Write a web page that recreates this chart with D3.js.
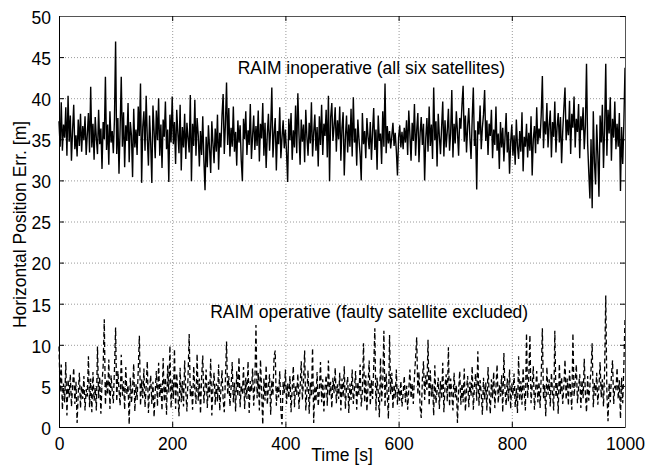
<!DOCTYPE html>
<html>
<head>
<meta charset="utf-8">
<script src="https://cdn.jsdelivr.net/npm/d3@7"></script>
<style>
  body { margin: 0; background: #fff; }
  text { font-family: Arial, "Liberation Sans", sans-serif; fill: #000; }
</style>
</head>
<body>
<div id="chart-area"></div>
<script>
// values, one sample every 2 s from 0 to 1000 s
const inoperative = [
  37.2, 34.1, 39.5, 33.6, 36.8, 35.2, 38.9, 33.0, 40.3, 34.7, 37.9, 32.4, 36.1, 39.2, 33.8, 35.5, 32.9, 37.4, 34.2, 38.1, 33.5, 36.6, 34.9, 37.8, 33.1,
  35.6, 38.2, 33.4, 41.4, 34.0, 36.9, 32.5, 37.7, 35.1, 33.2, 38.6, 34.4, 36.3, 31.4, 37.1, 35.0, 42.6, 33.7, 36.8, 31.9, 38.4, 34.6, 36.0, 33.3, 37.5,
  46.9, 33.2, 37.6, 30.8, 36.4, 42.6, 34.1, 38.3, 31.6, 36.7, 34.8, 39.4, 32.2, 37.1, 35.5, 30.4, 38.7, 34.0, 36.2, 33.1, 39.0, 35.4, 41.8, 29.7, 36.5,
  38.4, 33.6, 40.3, 35.2, 31.8, 37.9, 34.5, 29.7, 39.1, 36.0, 32.7, 38.5, 34.9, 40.0, 33.0, 36.8, 31.5, 37.4, 35.3, 39.6, 33.8, 36.2, 29.8, 38.0, 34.6,
  40.2, 34.4, 37.1, 32.0, 38.6, 35.7, 33.3, 39.2, 31.2, 36.5, 34.0, 38.1, 32.6, 37.0, 35.1, 33.4, 40.4, 29.9, 36.9, 34.2, 39.8, 33.0, 37.6, 35.5, 31.7,
  36.0, 33.1, 37.8, 32.4, 28.8, 35.3, 31.6, 36.7, 33.9, 30.9, 37.2, 34.5, 32.1, 36.3, 33.5, 38.0, 31.3, 35.8, 34.0, 37.9, 40.5, 33.2, 36.8, 41.9, 34.3,
  38.8, 32.9, 36.4, 34.1, 39.0, 33.5, 35.9, 31.8, 37.3, 34.6, 36.7, 32.4, 29.9, 37.5, 35.0, 38.4, 33.1, 36.1, 34.3, 39.3, 32.6, 35.4, 37.9, 33.7, 36.6,
  34.2, 38.5, 32.3, 36.9, 35.1, 39.4, 33.0, 37.0, 31.5, 35.6, 38.1, 33.6, 36.4, 41.3, 32.8, 35.7, 37.6, 31.2, 36.0, 34.4, 38.9, 32.7, 35.2, 37.3, 33.9,
  36.2, 33.4, 29.8, 37.5, 34.9, 38.2, 32.5, 36.1, 34.0, 39.1, 33.3, 40.6, 35.6, 31.9, 37.4, 34.7, 36.8, 32.2, 38.6, 35.3, 33.0, 37.0, 34.5, 39.5, 32.9,
  35.8, 38.0, 33.6, 36.5, 31.7, 37.8, 34.3, 39.2, 33.1, 36.9, 35.4, 38.6, 32.8, 40.3, 29.9, 37.7, 39.4, 34.8, 36.6, 38.9, 33.5, 37.3, 35.0, 39.0, 32.4,
  36.4, 38.3, 30.6, 35.2, 37.9, 33.4, 36.8, 34.1, 38.7, 32.9, 40.1, 34.6, 36.3, 31.8, 37.4, 35.0, 33.2, 30.0, 38.2, 34.4, 36.0, 32.7, 37.6, 35.3, 33.8,
  37.1, 32.5, 35.9, 38.8, 33.7, 36.2, 31.3, 37.9, 34.8, 35.7, 32.0, 38.4, 34.1, 41.8, 33.3, 36.6, 34.5, 36.0, 33.9, 35.4, 37.0, 34.2, 35.8, 33.6, 30.6,
  35.2, 36.7, 34.0, 35.9, 33.8, 36.4, 34.6, 37.3, 33.1, 38.5, 35.5, 32.4, 37.0, 34.8, 39.3, 33.0, 36.1, 38.2, 32.2, 35.7, 37.7, 34.3, 36.9, 30.0, 35.1,
  37.6, 33.5, 39.0, 34.2, 36.8, 32.6, 41.3, 34.9, 37.2, 31.7, 38.1, 35.4, 33.2, 36.5, 39.6, 32.9, 37.3, 34.0, 36.0, 38.7, 33.6, 35.8, 41.0, 32.8, 36.9,
  34.5, 38.4, 35.9, 33.0, 37.6, 36.3, 39.2, 41.5, 34.7, 37.9, 33.4, 36.6, 38.8, 35.1, 32.6, 37.4, 41.3, 34.2, 36.1, 28.9, 37.2, 35.6, 39.1, 33.8, 36.4,
  38.0, 41.0, 34.8, 37.3, 33.1, 36.9, 35.4, 38.6, 32.7, 36.2, 34.3, 39.0, 33.6, 35.7, 31.4, 37.1, 34.0, 36.4, 32.3, 35.2, 38.2, 33.4, 35.9, 30.8, 34.6,
  36.8, 33.0, 35.5, 31.9, 37.4, 34.2, 32.6, 36.0, 33.5, 38.3, 31.1, 35.3, 34.1, 36.9, 32.8, 35.8, 33.6, 37.8, 30.6, 35.0, 36.6, 33.3, 38.9, 34.4, 36.3,
  35.1, 38.0, 42.7, 33.9, 37.2, 35.6, 39.4, 34.0, 36.7, 38.5, 32.8, 37.1, 35.3, 39.6, 33.4, 36.5, 38.2, 34.6, 37.7, 32.1, 36.0, 38.8, 41.3, 34.9, 37.4,
  35.5, 39.7, 33.2, 38.1, 36.4, 40.2, 34.0, 37.5, 35.9, 39.3, 32.7, 37.8, 36.1, 38.9, 33.8, 36.6, 44.2, 34.5, 31.0, 27.8, 35.0, 26.6, 38.4, 32.2, 29.5,
  36.8, 33.1, 28.0, 37.9, 34.6, 39.2, 31.5, 36.3, 44.2, 33.0, 38.6, 35.7, 40.1, 32.4, 37.5, 35.2, 39.6, 33.8, 36.9, 34.1, 38.2, 28.7, 36.5, 32.0, 37.0,
  43.7
];

const operative = [
  9.8, 4.2, 7.6, 2.1, 5.3, 3.0, 7.9, 1.4, 5.8, 3.6, 6.4, 2.5, 4.9, 7.2, 2.8, 5.5, 0.5, 4.1, 6.6, 2.3, 5.0, 3.4, 6.2, 2.0, 4.6,
  3.7, 8.6, 2.4, 5.9, 1.8, 6.7, 3.2, 4.8, 2.0, 9.8, 3.5, 6.1, 1.6, 5.4, 7.4, 13.1, 2.7, 5.7, 3.9, 8.2, 2.2, 6.3, 4.4, 2.9, 7.0,
  12.1, 3.1, 6.8, 4.5, 2.6, 8.8, 3.8, 5.6, 2.1, 7.3, 4.0, 5.1, 0.3, 6.0, 2.9, 4.7, 7.7, 1.9, 5.2, 3.3, 6.9, 11.1, 2.6, 5.8, 3.5,
  7.1, 2.4, 5.0, 8.0, 1.7, 4.6, 6.3, 2.8, 5.5, 1.2, 4.3, 6.8, 2.5, 7.8, 3.6, 5.3, 2.0, 8.4, 3.1, 6.0, 1.5, 7.5, 4.2, 9.9, 2.3,
  5.7, 3.4, 9.5, 2.2, 6.5, 4.0, 1.3, 7.2, 3.0, 5.6, 2.5, 8.1, 4.4, 1.9, 6.2, 11.3, 3.7, 5.0, 2.1, 7.4, 4.6, 2.8, 8.9, 3.2, 5.9,
  1.6, 6.1, 8.7, 2.9, 4.8, 7.0, 2.3, 5.5, 3.6, 8.3, 1.4, 4.9, 6.6, 2.7, 5.3, 3.1, 7.6, 2.0, 4.5, 6.9, 3.3, 1.8, 5.8, 10.4, 3.9,
  6.2, 2.5, 4.7, 7.9, 3.0, 5.4, 1.9, 6.8, 3.7, 8.5, 2.4, 5.1, 4.0, 7.3, 2.2, 6.0, 3.4, 8.0, 1.7, 5.6, 4.3, 7.1, 2.6, 5.2, 12.4,
  3.5, 6.6, 2.0, 8.2, 4.4, 0.3, 5.9, 3.2, 7.5, 2.7, 4.9, 6.4, 1.5, 5.7, 3.8, 8.6, 9.3, 2.6, 5.0, 3.6, 6.8, 2.1, 0.3, 5.5, 4.1,
  7.0, 2.8, 5.3, 3.5, 6.2, 1.8, 4.6, 7.4, 2.4, 5.1, 3.9, 6.5, 2.2, 4.8, 8.0, 3.3, 5.6, 9.3, 2.0, 4.3, 6.9, 1.6, 5.4, 3.7, 9.6,
  0.5, 5.0, 3.1, 6.7, 2.5, 4.4, 7.9, 3.0, 5.8, 1.9, 4.7, 6.3, 2.6, 8.1, 3.8, 5.5, 2.3, 6.0, 4.1, 7.2, 2.9, 5.2, 3.4, 6.6, 2.0,
  5.9, 3.6, 7.4, 2.2, 4.9, 6.1, 1.7, 5.3, 3.3, 7.0, 2.8, 4.6, 6.8, 2.1, 5.5, 3.9, 7.6, 2.5, 4.2, 10.2, 3.0, 6.3, 1.9, 5.0, 8.1,
  2.6, 5.7, 3.4, 7.2, 12.0, 2.0, 6.0, 4.3, 1.2, 8.4, 3.1, 5.4, 11.7, 2.4, 6.5, 3.8, 1.0, 11.2, 4.0, 6.6, 2.2, 5.2, 3.5, 7.0, 2.7,
  4.8, 3.2, 5.6, 2.5, 4.1, 6.2, 3.0, 5.0, 2.1, 4.6, 7.0, 3.5, 5.3, 2.8, 6.1, 8.4, 10.9, 3.9, 6.7, 2.4, 1.1, 5.8, 8.0, 3.3, 6.3,
  4.5, 10.6, 2.6, 6.9, 3.7, 5.2, 1.4, 7.5, 2.9, 4.4, 6.0, 2.2, 5.6, 3.4, 7.8, 1.8, 4.9, 6.4, 3.1, 9.7, 2.5, 5.9, 4.0, 2.0, 6.6,
  3.6, 5.1, 0.5, 4.4, 6.8, 2.7, 5.3, 3.0, 7.1, 1.9, 4.6, 6.2, 2.4, 5.5, 3.8, 7.4, 2.1, 4.9, 6.5, 3.2, 9.2, 2.6, 5.7, 4.1, 1.5,
  6.0, 3.3, 5.4, 2.0, 7.3, 4.2, 1.6, 5.8, 3.5, 6.7, 2.3, 4.8, 7.6, 2.9, 5.1, 3.7, 6.3, 1.8, 9.0, 4.5, 2.6, 5.9, 3.1, 7.0, 2.2,
  5.3, 3.8, 6.5, 2.4, 4.7, 1.7, 8.6, 3.2, 5.6, 2.7, 7.2, 4.1, 2.0, 11.4, 3.5, 6.0, 11.2, 2.9, 5.0, 7.4, 2.1, 4.4, 6.8, 3.0, 5.5,
  2.3, 6.2, 12.0, 3.4, 5.1, 1.3, 7.3, 3.9, 5.8, 2.5, 6.6, 4.2, 2.0, 11.7, 3.6, 5.4, 1.6, 7.7, 4.0, 6.1, 2.8, 5.0, 8.2, 3.3, 5.9,
  2.6, 6.9, 4.3, 2.1, 11.4, 3.7, 5.5, 7.6, 2.9, 4.8, 6.4, 2.3, 5.7, 3.5, 8.3, 4.0, 1.8, 6.2, 3.2, 5.1, 7.0, 10.2, 2.4, 5.4, 3.8,
  6.6, 2.7, 4.9, 7.9, 3.6, 5.8, 2.5, 6.9, 16.0, 4.1, 0.7, 5.3, 3.0, 6.3, 8.1, 2.8, 5.0, 4.4, 7.2, 3.4, 5.7, 1.0, 6.0, 2.9, 7.5,
  13.2
];

const xTicks = [0, 200, 400, 600, 800, 1000];
const yTicks = [0, 5, 10, 15, 20, 25, 30, 35, 40, 45, 50];
const xLabel = 'Time [s]';
const yLabel = 'Horizontal Position Err. [m]';
const notes = [
  { text: 'RAIM inoperative (all six satellites)', t: 552, v: 42.9 },
  { text: 'RAIM operative (faulty satellite excluded)', t: 548, v: 13.2 }
];

const W = 658, H = 466;
const margin = { top: 16, right: 33, bottom: 39, left: 59 };
const width = W - margin.left - margin.right;
const height = H - margin.top - margin.bottom;
const fontSize = 17.5;
const tickLen = 5;

const svg = d3.select('#chart-area')
  .append('svg')
  .attr('width', W)
  .attr('height', H);

const g = svg.append('g')
  .attr('transform', `translate(${margin.left}, ${margin.top})`);

const x = d3.scaleLinear().domain([0, 1000]).range([0, width]);
const y = d3.scaleLinear().domain([0, 50]).range([height, 0]);

// grid (dotted, MATLAB style)
g.append('g')
  .selectAll('line')
  .data(xTicks.slice(1, -1))
  .enter()
  .append('line')
  .attr('x1', d => x(d) + 0.5).attr('x2', d => x(d) + 0.5)
  .attr('y1', 0).attr('y2', height)
  .attr('stroke', '#9a9a9a')
  .attr('stroke-dasharray', '1,2');
g.append('g')
  .selectAll('line')
  .data(yTicks.slice(1, -1))
  .enter()
  .append('line')
  .attr('y1', d => y(d) + 0.5).attr('y2', d => y(d) + 0.5)
  .attr('x1', 0).attr('x2', width)
  .attr('stroke', '#9a9a9a')
  .attr('stroke-dasharray', '1,2');

// the two series
const line = vals => d3.line()
  .x((d, i) => x(i * 1000 / (vals.length - 1)))
  .y(d => y(d))(vals);

g.append('path')
  .attr('d', line(inoperative))
  .attr('fill', 'none')
  .attr('stroke', '#000')
  .attr('stroke-width', 1.4)
  .attr('stroke-linejoin', 'miter');

g.append('path')
  .attr('d', line(operative))
  .attr('fill', 'none')
  .attr('stroke', '#000')
  .attr('stroke-width', 1.3)
  .attr('stroke-dasharray', '5,3');

// axes with inward ticks, mirrored on top and right
const xAxis = d3.axisBottom(x).tickValues(xTicks).tickFormat(d3.format('d'))
  .tickSizeInner(-tickLen).tickSizeOuter(0).tickPadding(11);
const yAxis = d3.axisLeft(y).tickValues(yTicks).tickFormat(d3.format('d'))
  .tickSizeInner(-tickLen).tickSizeOuter(0).tickPadding(8);

const gx = g.append('g')
  .attr('transform', `translate(0, ${height})`)
  .call(xAxis);
const gy = g.append('g').call(yAxis);

g.append('g')
  .call(d3.axisTop(x).tickValues(xTicks).tickSizeInner(-tickLen).tickSizeOuter(0).tickFormat(''))
  .select('.domain').attr('stroke', '#555');
g.append('g')
  .attr('transform', `translate(${width}, 0)`)
  .call(d3.axisRight(y).tickValues(yTicks).tickSizeInner(-tickLen).tickSizeOuter(0).tickFormat(''))
  .select('.domain').attr('stroke', '#555');

[gx, gy].forEach(a => a.selectAll('text')
  .attr('font-family', 'Arial, "Liberation Sans", sans-serif')
  .attr('font-size', fontSize));
gy.selectAll('text').attr('dy', '0.42em');

// axis labels
g.append('text')
  .attr('x', width / 2)
  .attr('y', height + 34)
  .attr('text-anchor', 'middle')
  .attr('font-size', fontSize)
  .text(xLabel);
g.append('text')
  .attr('transform', 'rotate(-90)')
  .attr('x', -(height / 2 + 3))
  .attr('y', -33)
  .attr('text-anchor', 'middle')
  .attr('font-size', fontSize)
  .text(yLabel);

// annotations
g.selectAll('.note')
  .data(notes)
  .enter()
  .append('text')
  .attr('class', 'note')
  .attr('x', d => x(d.t))
  .attr('y', d => y(d.v))
  .attr('text-anchor', 'middle')
  .attr('font-size', fontSize)
  .text(d => d.text);
</script>
</body>
</html>
